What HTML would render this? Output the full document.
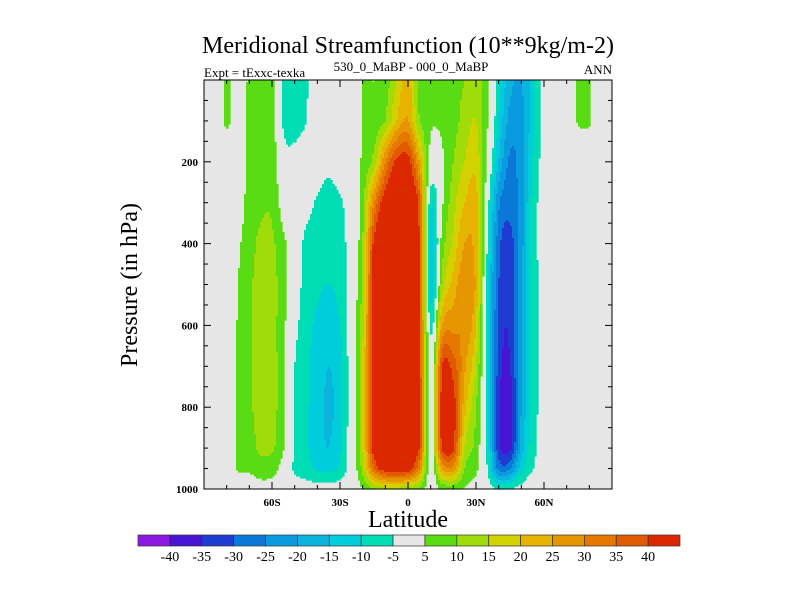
<!DOCTYPE html>
<html><head><meta charset="utf-8"><style>
html,body{margin:0;padding:0;background:#fff;}
svg{display:block;font-family:"Liberation Serif",serif;}
</style></head><body>
<svg id="chart" width="800" height="600" viewBox="0 0 800 600" xmlns="http://www.w3.org/2000/svg">
<text x="408" y="53" font-size="24" text-anchor="middle">Meridional Streamfunction (10**9kg/m-2)</text>
<text x="204" y="77" font-size="13">Expt = tExxc-texka</text>
<text x="411" y="71" font-size="13" text-anchor="middle">530_0_MaBP - 000_0_MaBP</text>
<text x="612" y="74" font-size="13" text-anchor="end">ANN</text>
<text transform="translate(137,285) rotate(-90)" font-size="24" text-anchor="middle">Pressure (in hPa)</text>
<text x="408" y="527" font-size="24" text-anchor="middle">Latitude</text>
<rect x="204" y="80" width="408" height="409" fill="#e6e6e6"/>
<g id="field"></g>
<g id="axes"></g>
<g id="cbar"></g>
</svg>
<script>
const lats = [-90,-85,-80,-75,-70,-65,-60,-55,-50,-45,-40,-35,-30,-25,-20,-15,-10,-5,0,5,10,15,20,25,30,35,40,45,50,55,60,65,70,75,80,85,90];
const levels = [0,100,200,300,400,500,600,700,800,900,950,1000];
// streamfunction values: one row per latitude, columns follow `levels`
const psi = [
[0,0,0,0,0,0,0,0,0,0,0,0],
[0,0,0,0,0,0,0,0,0,0,0,0],
[6,6,0,0,0,0,0,0,0,0,0,0],
[0,0,0,2,4,5,5.5,5.5,5.5,5.5,5.5,0],
[6,7,7,7,8,9,9,9,9,8,6,1],
[6,7,8,9,11,12,12,12,12,11,8,2],
[6,7,8,9,11,12,12,12,12,11,7,2],
[-6,-6,-2,2,6,7,6,6,6,5,2,0],
[-7,-7,-3,1,1,0,-3,-5,-6,-6,-6,-1],
[-6,-5,0,-2,-7,-8,-8,-9,-9,-9,-8,-2],
[4,4,-1,-6,-8,-9,-11,-12,-13,-13,-11,-2],
[4,4,-3,-8,-9,-10,-13,-15,-16,-15,-12,-2],
[0,0,0,-6,-8,-8,-10,-12,-12,-11,-9,-1],
[0,0,0,0,0,0,0,0,0,0,0,0],
[5,5,6,8,10,12,14,15,15,15,12,5],
[5,6,12,30,42,44,44,44,44,44,35,10],
[7,10,30,45,50,50,50,50,50,50,45,12],
[15,20,42,50,50,50,50,50,50,50,47,12],
[22,25,43,48,48,48,48,48,48,48,45,10],
[8,10,25,38,40,40,40,40,40,40,30,8],
[6,6,2,-9,-13,-13,-6,-1,0,0,0,0],
[7,6,4,4,7,12,25,40,44,42,25,5],
[8,8,10,13,16,22,28,38,43,42,28,6],
[10,12,15,20,25,29,29,26,22,15,10,4],
[12,15,18,22,22,24,20,15,10,8,6,2],
[6,5,3,-2,-5,-8,-8,-8,-8,-7,-5,-1],
[-8,-10,-15,-24,-28,-30,-31,-32,-34,-33,-27,-5],
[-18,-22,-26,-28,-32,-33,-34,-35,-38,-37,-26,-4],
[-20,-22,-22,-22,-22,-20,-20,-20,-20,-18,-12,-2],
[-12,-12,-10,-8,-8,-8,-8,-8,-8,-7,-5,0],
[-2,-2,-2,-2,-2,-2,-2,-2,-2,-2,-2,0],
[0,0,0,0,0,0,0,0,0,0,0,0],
[0,0,0,0,0,0,0,0,0,0,0,0],
[5.5,5.5,0,0,0,0,0,0,0,0,0,0],
[5.5,5.5,0,0,0,0,0,0,0,0,0,0],
[0,0,0,0,0,0,0,0,0,0,0,0],
[0,0,0,0,0,0,0,0,0,0,0,0]
];
const bounds = [-40,-35,-30,-25,-20,-15,-10,-5,5,10,15,20,25,30,35,40];
const colors = ["#8a18e0","#4614d2","#1e3cd2","#0a78d7","#0a9ae0","#0ab4dc","#00cddc","#00dcb4","#e6e6e6","#5adc14","#a0dc0a","#d2d200","#e6b400","#e69600","#e67800","#e05a00","#dc2800"];
const pTicks = [200,400,600,800,1000];
const latTicks = [-60,-30,0,30,60];
const latLabels = ["60S","30S","0","30N","60N"];

const X0=204,X1=612,Y0=80,Y1=489;
const xs = lat => X0+(lat+90)/180*(X1-X0);
const ys = p => Y0+p/1000*(Y1-Y0);
const ns="http://www.w3.org/2000/svg";
function mk(tag,attrs,parent){const e=document.createElementNS(ns,tag);for(const k in attrs)e.setAttribute(k,attrs[k]);parent.appendChild(e);return e;}
function colAt(i,p){
  i=Math.max(0,Math.min(lats.length-1,i));
  let j=0;while(j<levels.length-2&&p>levels[j+1])j++;
  let u=(p-levels[j])/(levels[j+1]-levels[j]);u=Math.max(0,Math.min(1,u));
  return psi[i][j]*(1-u)+psi[i][j+1]*u;
}
function val(lat,p){
  const d=lats[1]-lats[0];
  let i=Math.min(lats.length-2,Math.max(0,Math.floor((lat-lats[0])/d)));
  let t=(lat-lats[i])/d;t=Math.max(0,Math.min(1,t));
  const p0=colAt(i-1,p),p1=colAt(i,p),p2=colAt(i+1,p),p3=colAt(i+2,p);
  const t2=t*t,t3=t2*t;
  return 0.5*((2*p1)+(-p0+p2)*t+(2*p0-5*p1+4*p2-p3)*t2+(-p0+3*p1-3*p2+p3)*t3);
}
function bin(v){let k=0;for(const b of bounds)if(v>=b)k++;return k;}
const field=document.getElementById('field');
const step=2;
for(let y=Y0;y<Y1;y+=step){
  const p=(y+step/2-Y0)/(Y1-Y0)*1000;
  let runStart=X0,runBin=null;
  for(let x=X0;x<=X1;x+=step){
    const b = x<X1 ? bin(val((x+step/2-X0)/(X1-X0)*180-90,p)) : -1;
    if(b!==runBin){
      if(runBin!==null&&runBin!==8){
        const r=mk('rect',{x:runStart,y:y,width:Math.min(x,X1)-runStart+0.6,height:Math.min(step,Y1-y)+0.6,fill:colors[runBin]},field);
        
        
      }
      runStart=x;runBin=b;
    }
  }
}
const axes=document.getElementById('axes');
const frame=mk('rect',{x:X0,y:Y0,width:X1-X0,height:Y1-Y0,fill:'none',stroke:'#000','stroke-width':1},axes);


for(let p=50;p<1000;p+=50){
  const y=ys(p),L=(p%200===0)?7:4;
  mk('line',{x1:X0,x2:X0+L,y1:y,y2:y,stroke:'#000'},axes);
  mk('line',{x1:X1,x2:X1-L,y1:y,y2:y,stroke:'#000'},axes);
}
pTicks.forEach(p=>{
  const t=mk('text',{x:X0-6,y:ys(p)+4,'font-size':11,'font-weight':'bold','text-anchor':'end'},axes);
  t.textContent=p;
  
  
});
for(let l=-80;l<=80;l+=10){
  const x=xs(l),L=(l%30===0)?7:4;
  mk('line',{x1:x,x2:x,y1:Y1,y2:Y1-L,stroke:'#000'},axes);
  mk('line',{x1:x,x2:x,y1:Y0,y2:Y0+L,stroke:'#000'},axes);
}
latTicks.forEach((l,i)=>{
  const t=mk('text',{x:xs(l),y:Y1+17,'font-size':11,'font-weight':'bold','text-anchor':'middle'},axes);
  t.textContent=latLabels[i];
  
  
});
const cbar=document.getElementById('cbar');
const CB0=138,CBW=542/17,CBY=535,CBH=11;
colors.forEach((c,i)=>{
  const r=mk('rect',{x:CB0+i*CBW,y:CBY,width:CBW,height:CBH,fill:c,stroke:'#333','stroke-width':0.7},cbar);
  
  
});
bounds.forEach((b,i)=>{
  const t=mk('text',{x:CB0+(i+1)*CBW,y:CBY+CBH+15,'font-size':14,'text-anchor':'middle'},cbar);
  t.textContent=b;
  
  
});
</script>
</body></html>
